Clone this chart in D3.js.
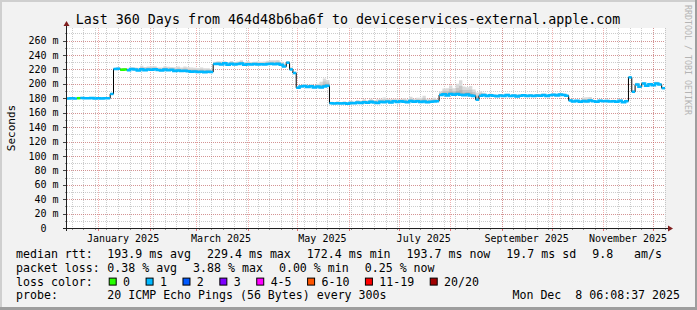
<!DOCTYPE html>
<html>
<head>
<meta charset="utf-8">
<script src="https://cdn.jsdelivr.net/npm/d3@7"></script>
<style>
body { margin: 0; background: #f2f2f2; }
svg text { font-family: "DejaVu Sans Mono", monospace; }
</style>
</head>
<body>
<div id="chart"></div>
<script>
const W = 697, H = 310;

// time range of the graph (last 360 days)
const startTime = new Date(2024, 11, 13, 6, 8, 37);
const endTime = new Date(2025, 11, 8, 6, 8, 37);
const stepDays = 2;

// median rtt in ms, one value per 2 days
const median = [
  179.8, 180.2, 179.6, 180.1, 180.4, 179.9, 180.0, 180.3, 179.7, 180.1, 179.8, 180.2, 180.0,
  186.0,
  220.5, 221.0, 219.5, 220.0, 219.0, 220.5, 219.8, 218.5, 220.2, 219.0, 220.0, 219.5, 220.3, 219.2, 218.6,
  219.8, 218.8, 219.5, 218.0, 218.5, 217.8, 218.2, 217.5, 216.8, 217.2, 216.5, 216.8, 216.2, 216.8, 216.5,
  227.5, 228.0, 227.0, 228.5, 226.5, 227.8, 226.8, 227.5, 228.2, 226.5, 227.2, 226.8, 227.6, 227.0, 227.3,
  226.9, 227.4, 227.8, 227.2, 228.0, 226.5,
  224.0, 229.4, 220.0, 215.0, 194.5,
  196.5, 197.0, 195.5, 196.8, 195.0, 196.2, 194.8, 196.5, 197.2,
  173.0, 172.6, 173.2, 172.8, 173.0, 172.4, 173.4, 173.0, 174.0, 173.5, 174.6, 173.8, 175.0, 174.2, 173.5,
  175.2, 174.4, 175.5, 174.0, 175.8, 174.8, 176.0, 175.2, 174.6, 176.2, 175.0, 175.8, 174.8, 175.5, 174.4,
  175.0, 175.6, 176.0,
  184.5, 185.5, 184.0, 185.8, 184.8, 186.0, 185.0, 184.2, 185.4, 184.0, 183.2, 178.0,
  183.5, 184.5, 183.0, 184.2, 183.4, 182.8, 184.0, 183.2, 184.4, 183.0, 183.8, 182.6, 183.5, 184.2, 183.0,
  183.8, 183.2, 184.0, 183.4, 184.5, 183.0, 184.2, 185.0, 184.0, 185.2, 184.5, 183.5,
  177.0, 175.5, 176.5, 175.0, 176.2, 175.4, 176.8, 176.0, 175.2, 176.4, 175.8, 176.2, 175.5, 176.0, 175.2,
  176.5, 174.5, 176.0,
  209.0, 189.0, 199.0, 196.0, 200.5, 197.5, 199.5, 198.0, 200.5, 199.0, 194.0
];

// how far the smoke (ping spread) reaches above the median, ms
const smokeUp = [
  0.8, 0.8, 0.8, 0.8, 0.8, 0.8, 0.8, 0.8, 0.8, 0.8, 0.8, 0.8, 0.8,
  0,
  1.5, 2, 2.5, 2, 3, 2.5, 3, 4, 5, 4.5, 4, 5, 4, 3.5,
  4, 4.5, 5, 4, 5, 5.5, 5, 6, 5.5, 6, 5, 5.5, 6, 5.5, 5, 4,
  3, 3.5, 4, 3, 3.5, 4, 3, 3.5, 4.5, 3, 4, 3.5, 3, 4, 3.5, 4, 4.5, 5, 5.5, 5, 4,
  4, 2, 3, 2, 2,
  2, 2.5, 3, 2.5, 3, 4, 8, 11, 8,
  2, 2, 2.5, 2, 3, 2.5, 3, 2, 3.5, 3, 4, 3, 4.5, 3.5, 5, 4, 6.5, 4, 5, 3.5, 4.5, 3, 5, 4, 6, 4.5, 5, 6,
  8, 5, 4, 5, 3,
  5, 8, 10, 12, 9, 14, 20, 12, 10, 13, 9, 10,
  6, 3, 2, 2.5, 2, 1.5, 2, 2.5, 2, 1.5, 2, 2.5, 2, 1.5, 2, 2, 1.5, 2, 2.5, 2, 1.5, 2, 2, 1.5, 2, 2, 1.5,
  1.5, 2, 1.5, 2, 5, 6, 5, 2, 1.5, 2, 1.5, 2, 1.5, 2, 1.5, 2, 1.5, 2,
  1, 2, 2.5, 2, 2, 2.5, 2, 2, 2.5, 2, 1.5
];

// loss colour class of each step (index into lossColors)
const lossLevel = [
  1, 1, 1, 0, 1, 1, 1, 1, 1, 1, 1, 1, 1, 1, 1, 1, 0, 0, 1, 1,
  1, 1, 1, 1, 1, 1, 1, 1, 1, 1, 1, 1, 1, 1, 1, 1, 1, 1, 1, 1,
  1, 1, 1, 1, 1, 1, 1, 1, 1, 1, 1, 1, 1, 1, 1, 1, 1, 1, 1, 1,
  1, 1, 1, 1, 1, 1, 1, 1, 1, 1, 1, 1, 1, 1, 1, 1, 1, 1, 1, 1,
  1, 1, 1, 1, 1, 1, 1, 1, 1, 1, 1, 1, 1, 1, 1, 1, 1, 1, 1, 1,
  1, 1, 1, 1, 1, 1, 1, 1, 1, 1, 1, 1, 1, 1, 1, 1, 1, 1, 1, 1,
  1, 1, 1, 1, 1, 1, 1, 1, 1, 1, 1, 1, 1, 1, 1, 1, 1, 1, 1, 1,
  1, 1, 1, 1, 1, 1, 1, 1, 1, 1, 1, 1, 1, 1, 1, 1, 1, 1, 1, 1,
  1, 1, 1, 1, 1, 1, 1, 1, 1, 1, 1, 1, 1, 1, 1, 1, 1, 1, 1, 1
];

const lossLabels = ["0", "1", "2", "3", "4-5", "6-10", "11-19", "20/20"];
const lossColors = ["#26ff00", "#00b8ff", "#0059ff", "#7e00ff", "#ff00ff", "#ff5500", "#ff0000", "#a10000"];

const yTicks = [0, 20, 40, 60, 80, 100, 120, 140, 160, 180, 200, 220, 240, 260];
const yTickLabels = ["0\u00a0\u00a0", "20 m", "40 m", "60 m", "80 m", "100 m", "120 m", "140 m",
  "160 m", "180 m", "200 m", "220 m", "240 m", "260 m"];
const xLabelMonths = [new Date(2025, 0, 1), new Date(2025, 2, 1), new Date(2025, 4, 1),
  new Date(2025, 6, 1), new Date(2025, 8, 1), new Date(2025, 10, 1)];
const xLabels = ["January 2025", "March 2025", "May 2025", "July 2025", "September 2025", "November 2025"];

const title = "Last 360 Days from 464d48b6ba6f to deviceservices-external.apple.com";
const rttStats = ["193.9 ms avg", "229.4 ms max", "172.4 ms min", "193.7 ms now", "19.7 ms sd", "9.8   am/s"];
const lossStats = ["0.38 % avg", "3.88 % max", "0.00 % min", "0.25 % now"];
const probeText = "20 ICMP Echo Pings (56 Bytes) every 300s";
const stampText = "Mon Dec  8 06:08:37 2025";

// geometry
const PLOT = {left: 67, right: 665, top: 28, bottom: 228};

const x = d3.scaleTime().domain([startTime, endTime]).range([PLOT.left, PLOT.right]);
const y = d3.scaleLinear().domain([0, 277.5]).range([PLOT.bottom, PLOT.top]);

const svg = d3.select("#chart")
    .append("svg")
    .attr("width", W)
    .attr("height", H);

// background + rrdtool style shading
svg.append("rect").attr("width", W).attr("height", H).attr("fill", "#f2f2f2");
svg.append("rect").attr("width", W).attr("height", 2).attr("fill", "#cfcfcf");
svg.append("rect").attr("width", 2).attr("height", H).attr("fill", "#cfcfcf");
svg.append("rect").attr("y", H - 3).attr("width", W).attr("height", 3).attr("fill", "#9e9e9e");
svg.append("rect").attr("x", W - 2).attr("width", 2).attr("height", H).attr("fill", "#9e9e9e");

// canvas
svg.append("rect")
    .attr("x", PLOT.left).attr("y", PLOT.top)
    .attr("width", PLOT.right - PLOT.left).attr("height", PLOT.bottom - PLOT.top)
    .attr("fill", "#ffffff");

const grid = svg.append("g").attr("shape-rendering", "crispEdges");
const MINOR = "rgba(143,143,143,0.45)";
const MAJOR = "rgba(222,79,79,0.45)";

// minor grid: every 10 ms and every week
const yMinor = d3.range(10, 277, 10);
grid.selectAll(".hmin").data(yMinor).enter().append("line")
    .attr("x1", PLOT.left).attr("x2", PLOT.right)
    .attr("y1", d => Math.round(y(d)) + 0.5).attr("y2", d => Math.round(y(d)) + 0.5)
    .attr("stroke", MINOR).attr("stroke-dasharray", "1,1");
const weeks = d3.timeMonday.range(startTime, endTime);
grid.selectAll(".vmin").data(weeks).enter().append("line")
    .attr("y1", PLOT.top).attr("y2", PLOT.bottom)
    .attr("x1", d => Math.round(x(d)) + 0.5).attr("x2", d => Math.round(x(d)) + 0.5)
    .attr("stroke", MINOR).attr("stroke-dasharray", "1,1");

// major grid: every 20 ms and every month
grid.selectAll(".hmaj").data(yTicks.slice(1)).enter().append("line")
    .attr("x1", PLOT.left).attr("x2", PLOT.right)
    .attr("y1", d => Math.round(y(d)) + 0.5).attr("y2", d => Math.round(y(d)) + 0.5)
    .attr("stroke", MAJOR).attr("stroke-dasharray", "1,1");
const months = d3.timeMonth.range(startTime, endTime);
grid.selectAll(".vmaj").data(months).enter().append("line")
    .attr("y1", PLOT.top).attr("y2", PLOT.bottom)
    .attr("x1", d => Math.round(x(d)) + 0.5).attr("x2", d => Math.round(x(d)) + 0.5)
    .attr("stroke", MAJOR).attr("stroke-dasharray", "1,1");

// data points as steps
const pts = median.map((v, i) => ({
  t0: d3.timeDay.offset(startTime, i * stepDays),
  t1: i + 1 < median.length ? d3.timeDay.offset(startTime, (i + 1) * stepDays) : endTime,
  v: v,
  up: smokeUp[i],
  loss: lossLevel[i]
}));
const stepPairs = arr => arr.flatMap(d => [[d.t0, d], [d.t1, d]]);

const plot = svg.append("g");

// smoke
[[1, "#dadada"], [0.6, "#c6c6c6"], [0.3, "#b2b2b2"]].forEach(([k, c]) => {
  const area = d3.area()
      .x(p => x(p[0]))
      .y0(p => y(p[1].v))
      .y1(p => y(p[1].v + p[1].up * k));
  plot.append("path").attr("d", area(stepPairs(pts))).attr("fill", c);
});

// black median line under the loss coloured one
const line = d3.line().x(p => x(p[0])).y(p => y(p[1].v));
plot.append("path")
    .attr("d", line(stepPairs(pts)))
    .attr("fill", "none").attr("stroke", "#000").attr("stroke-width", 1);

// loss coloured median, broken at big jumps
const runs = [];
pts.forEach((d, i) => {
  const prev = pts[i - 1];
  if (!prev || prev.loss !== d.loss || Math.abs(prev.v - d.v) > 4) runs.push([]);
  runs[runs.length - 1].push(d);
});
plot.selectAll(".run").data(runs).enter().append("path")
    .attr("d", r => line(stepPairs(r)))
    .attr("fill", "none")
    .attr("stroke", r => lossColors[r[0].loss])
    .attr("stroke-width", 2.5);

// axes
const axis = svg.append("g").attr("shape-rendering", "crispEdges");
axis.selectAll(".ytm").data(yMinor).enter().append("line")
    .attr("x1", PLOT.left - 2).attr("x2", PLOT.left)
    .attr("y1", d => Math.round(y(d)) + 0.5).attr("y2", d => Math.round(y(d)) + 0.5)
    .attr("stroke", "#8f8f8f");
axis.selectAll(".ytM").data(yTicks).enter().append("line")
    .attr("x1", PLOT.left - 4).attr("x2", PLOT.left)
    .attr("y1", d => Math.round(y(d)) + 0.5).attr("y2", d => Math.round(y(d)) + 0.5)
    .attr("stroke", "#444");
axis.selectAll(".xtm").data(weeks).enter().append("line")
    .attr("y1", PLOT.bottom).attr("y2", PLOT.bottom + 2)
    .attr("x1", d => Math.round(x(d)) + 0.5).attr("x2", d => Math.round(x(d)) + 0.5)
    .attr("stroke", "#8f8f8f");
axis.selectAll(".xtM").data(months).enter().append("line")
    .attr("y1", PLOT.bottom).attr("y2", PLOT.bottom + 3)
    .attr("x1", d => Math.round(x(d)) + 0.5).attr("x2", d => Math.round(x(d)) + 0.5)
    .attr("stroke", "rgba(222,79,79,0.8)");

axis.append("line")
    .attr("x1", PLOT.left - 4).attr("x2", PLOT.right + 4)
    .attr("y1", PLOT.bottom + 0.5).attr("y2", PLOT.bottom + 0.5)
    .attr("stroke", "#1f1f1f");
axis.append("line")
    .attr("x1", PLOT.left - 0.5).attr("x2", PLOT.left - 0.5)
    .attr("y1", PLOT.bottom + 3).attr("y2", PLOT.top - 3)
    .attr("stroke", "#1f1f1f");

const ARROW = "#801f1f";
svg.append("path")
    .attr("d", `M${PLOT.right + 3},${PLOT.bottom - 2.5}L${PLOT.right + 8},${PLOT.bottom + 0.5}L${PLOT.right + 3},${PLOT.bottom + 3.5}Z`)
    .attr("fill", ARROW);
svg.append("path")
    .attr("d", `M${PLOT.left - 3.5},${PLOT.top - 2}L${PLOT.left - 0.5},${PLOT.top - 7}L${PLOT.left + 2.5},${PLOT.top - 2}Z`)
    .attr("fill", ARROW);

// tick labels
svg.selectAll(".ylab").data(yTicks).enter().append("text")
    .attr("x", PLOT.left - 8.5)
    .attr("y", d => y(d) + 3.6)
    .attr("text-anchor", "end")
    .attr("font-size", 10)
    .text((d, i) => yTickLabels[i]);

svg.selectAll(".xlab").data(xLabelMonths).enter().append("text")
    .attr("x", d => x(d3.timeDay.offset(d, 15)))
    .attr("y", 242)
    .attr("text-anchor", "middle")
    .attr("font-size", 10)
    .text((d, i) => xLabels[i]);

// title, axis title, watermark
svg.append("text")
    .attr("x", 348).attr("y", 23.5)
    .attr("text-anchor", "middle")
    .attr("font-size", 13.3)
    .text(title);

svg.append("text")
    .attr("transform", `translate(15,${(PLOT.top + PLOT.bottom) / 2}) rotate(-90)`)
    .attr("text-anchor", "middle")
    .attr("font-size", 11)
    .text("Seconds");

svg.append("text")
    .attr("transform", "translate(685,5) rotate(90)")
    .attr("font-size", 8.3)
    .attr("fill", "#b4b4b4")
    .text("RRDTOOL / TOBI OETIKER");

// legend
const nb = s => s.replace(/ /g, "\u00a0");
const LEG_FONT = 11.6;
const rowY = [258, 271.8, 285.6, 299.4];
const COL_X = 107.3, GAP = 16;
const legend = svg.append("g").attr("font-size", LEG_FONT);

function statRow(yy, label, items) {
  legend.append("text").attr("x", 16).attr("y", yy).text(nb(label));
  let xx = COL_X;
  items.forEach(s => {
    const t = legend.append("text").attr("x", xx).attr("y", yy).text(nb(s));
    xx += t.node().getComputedTextLength() + GAP;
  });
}
statRow(rowY[0], "median rtt:", rttStats);
statRow(rowY[1], "packet loss:", lossStats);

legend.append("text").attr("x", 16).attr("y", rowY[2]).text(nb("loss color:"));
let bx = COL_X + 1.4;
lossLabels.forEach((lab, i) => {
  legend.append("rect")
      .attr("x", bx + 0.5).attr("y", rowY[2] - 7.5)
      .attr("width", 7).attr("height", 7)
      .attr("fill", lossColors[i]).attr("stroke", "#000").attr("stroke-width", 1);
  const t = legend.append("text").attr("x", bx + 14.4).attr("y", rowY[2]).text(lab);
  bx += 14.4 + t.node().getComputedTextLength() + 15.5;
});

legend.append("text").attr("x", 16).attr("y", rowY[3]).text(nb("probe:"));
legend.append("text").attr("x", COL_X).attr("y", rowY[3]).text(nb(probeText));
legend.append("text").attr("x", 680).attr("y", rowY[3]).attr("text-anchor", "end").text(nb(stampText));
</script>
</body>
</html>
